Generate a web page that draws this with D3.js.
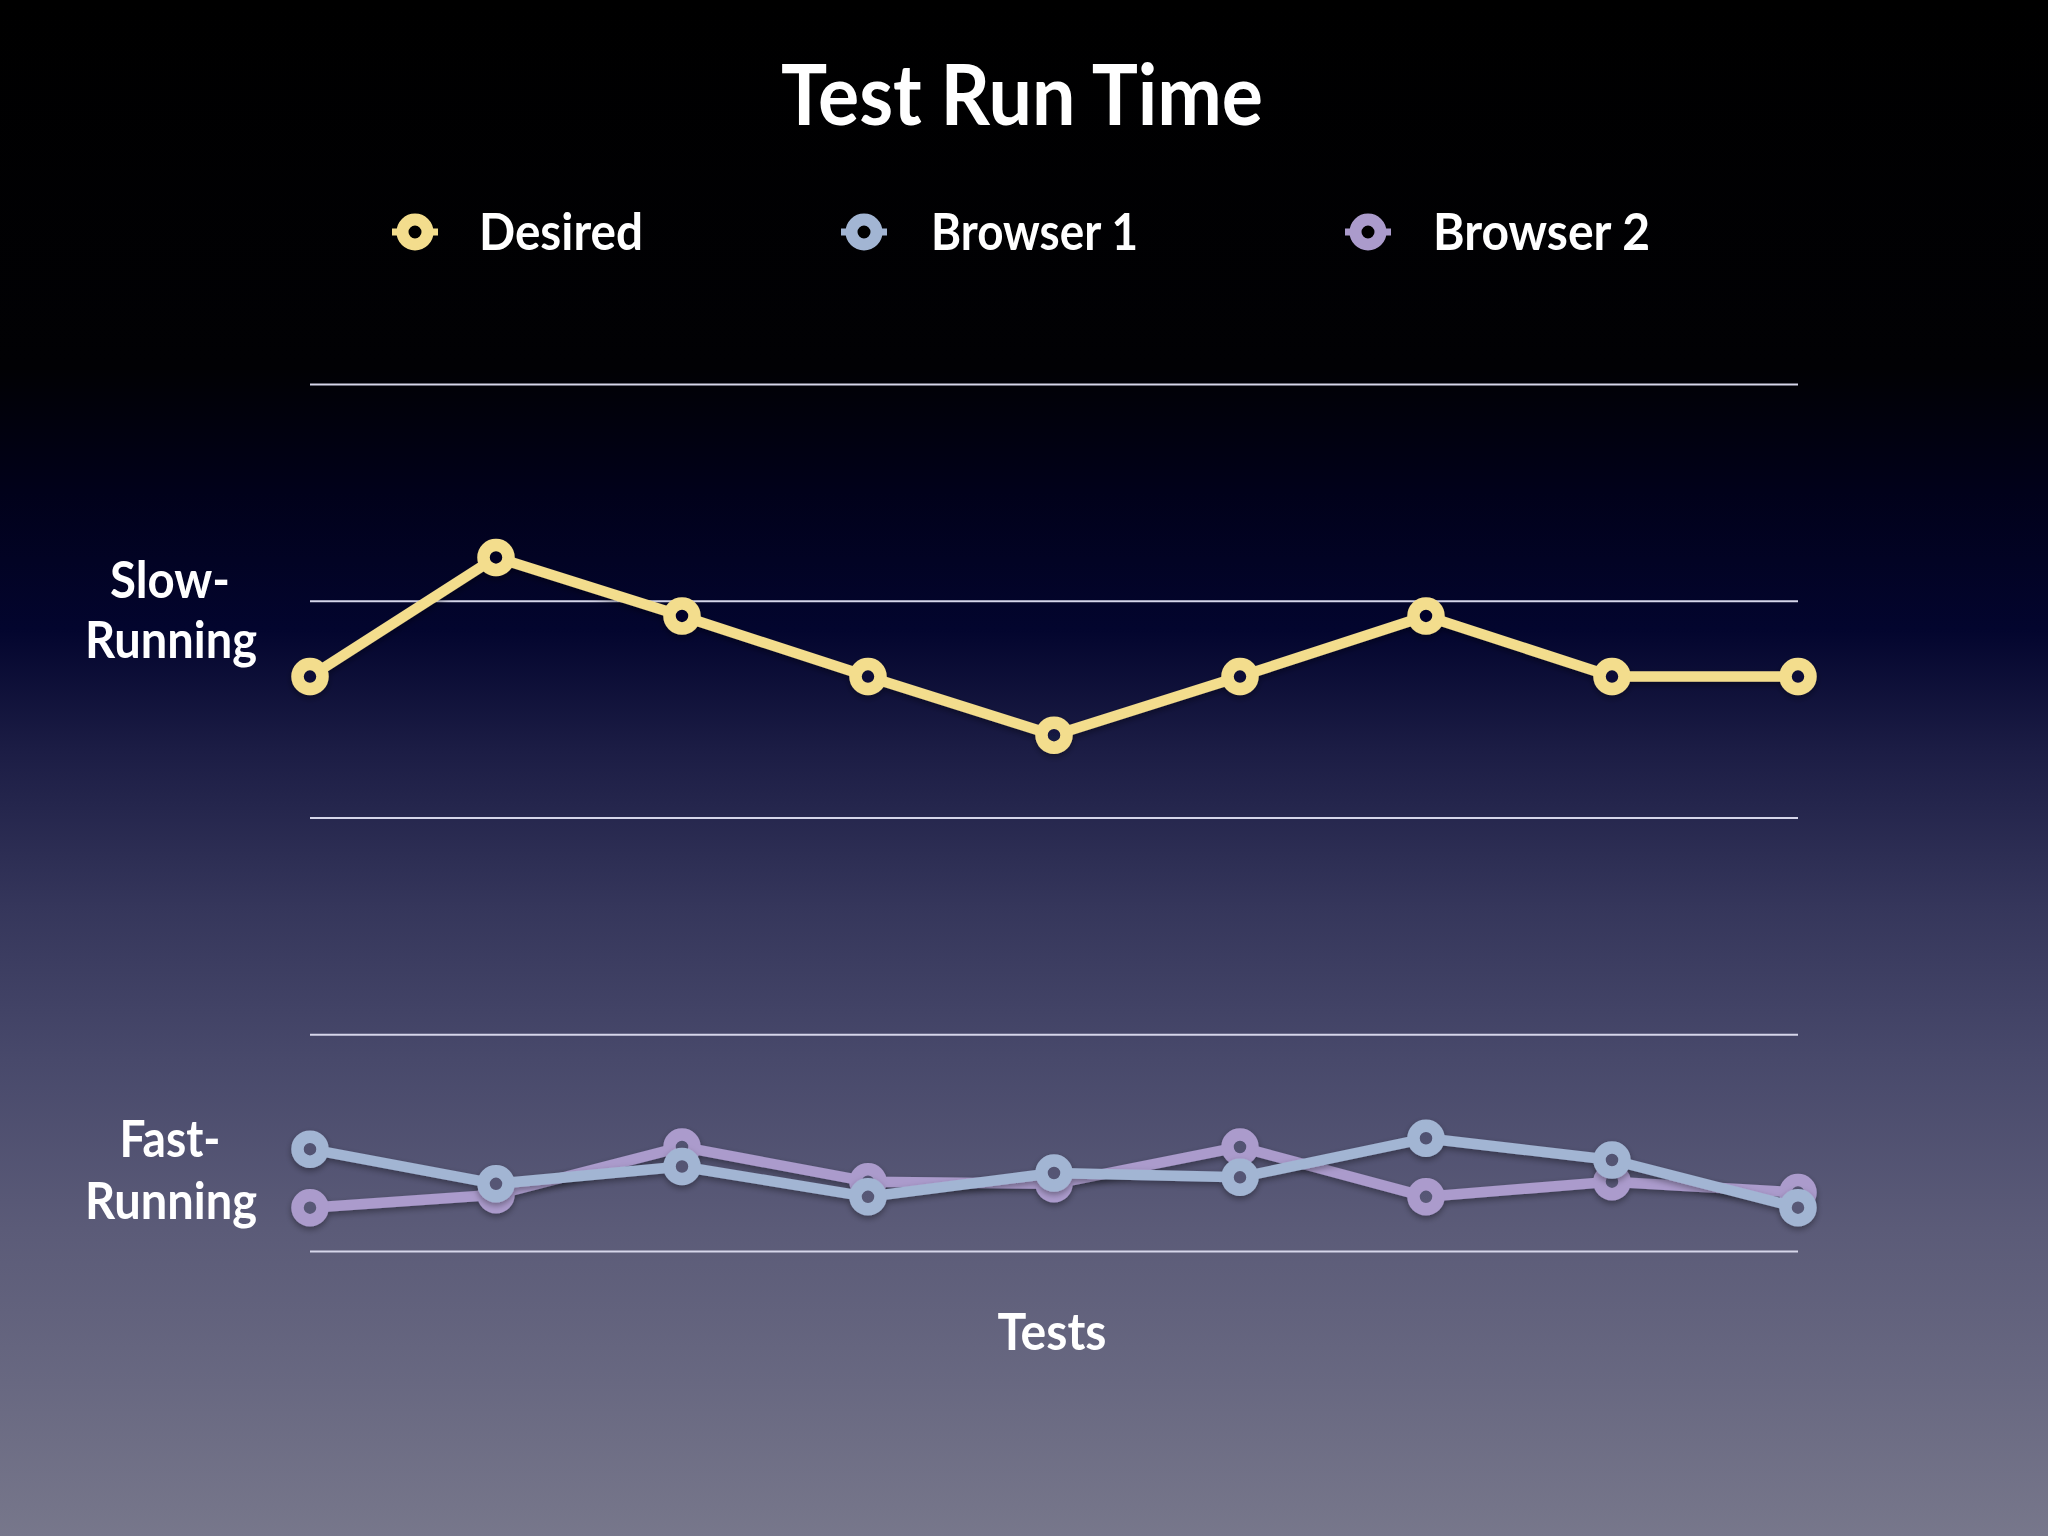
<!DOCTYPE html>
<html>
<head>
<meta charset="utf-8">
<script src="https://cdn.jsdelivr.net/npm/d3@7"></script>
<style>
html,body{margin:0;padding:0;background:#000;}
svg{display:block;}
text{font-family:Lato,"Open Sans",sans-serif;font-weight:700;fill:#ffffff;}
</style>
</head>
<body>
<svg id="chart" width="2048" height="1536"></svg>
<script>
// ---- data ----
const tests = ["1","2","3","4","5","6","7","8","9"];
const desired  = [2.65, 3.20, 2.93, 2.65, 2.38, 2.65, 2.93, 2.65, 2.65];
const browser1 = [0.47, 0.31, 0.39, 0.25, 0.36, 0.34, 0.52, 0.42, 0.20];
const browser2 = [0.20, 0.26, 0.48, 0.32, 0.31, 0.48, 0.25, 0.32, 0.27];
const seriesNames = ["Desired", "Browser 1", "Browser 2"];
const yTicks = [0, 1, 2, 3, 4];
const yCategoryLabels = [["Slow-", "Running"], ["Fast-", "Running"]];
const title = "Test Run Time";
const xTitle = "Tests";

const colors = {"Desired":"#f3dd8d", "Browser 1":"#a2b5d3", "Browser 2":"#ab9bcc"};

const svg = d3.select("#chart");
const W = 2048, H = 1536;

// background gradient
const defs = svg.append("defs");
const grad = defs.append("linearGradient").attr("id","bg")
  .attr("gradientUnits","userSpaceOnUse").attr("x1",0).attr("y1",0).attr("x2",0).attr("y2",H);
[[0,"#000000"],[0.24,"#010104"],[0.32,"#01011a"],[0.41,"#03052e"],[0.49,"#1c1d45"],
 [0.59,"#35365b"],[0.69,"#48496b"],[0.80,"#5b5b78"],[0.90,"#686881"],[1,"#77778b"]]
 .forEach(([o,c])=>grad.append("stop").attr("offset",o).attr("stop-color",c));
svg.append("rect").attr("width",W).attr("height",H).attr("fill","url(#bg)");

// scales
const x = d3.scalePoint().domain(tests).range([310, 1798]);
const y = d3.scaleLinear().domain([0, 4]).range([1251, 384]);

// gridlines
const grid = svg.append("g").attr("transform","translate(310,0)")
  .call(d3.axisLeft(y).tickValues(yTicks).tickSize(-(1798-310)).tickFormat(""));
grid.select(".domain").remove();
grid.selectAll(".tick line").attr("stroke","#d6d6ea").attr("stroke-width",2);

// title
function fitText(sel, w){ sel.attr("textLength", w).attr("lengthAdjust","spacingAndGlyphs"); return sel; }
fitText(svg.append("text").attr("x",1022).attr("y",125).attr("text-anchor","middle")
  .attr("font-size",84).text(title), 482);

// legend
const legendPos = [{mx:415, tx:479, w:164},{mx:864, tx:931, w:207},{mx:1368, tx:1433, w:217}];
seriesNames.forEach((name,i)=>{
  const p = legendPos[i];
  const g = svg.append("g");
  g.append("line").attr("x1",p.mx-23).attr("x2",p.mx+23).attr("y1",232).attr("y2",232)
    .attr("stroke",colors[name]).attr("stroke-width",7);
  g.append("circle").attr("cx",p.mx).attr("cy",232).attr("r",12.5)
    .attr("fill","#000").attr("stroke",colors[name]).attr("stroke-width",12);
  fitText(g.append("text").attr("x",p.tx).attr("y",250).attr("font-size",52).text(name), p.w);
});

// y category labels
const catPos = [{y1:598, y2:658, w1:120, w2:172},{y1:1157, y2:1219, w1:101, w2:172}];
yCategoryLabels.forEach((lines,i)=>{
  const p = catPos[i];
  fitText(svg.append("text").attr("x",170).attr("y",p.y1).attr("text-anchor","middle")
    .attr("font-size",52).text(lines[0]), p.w1);
  fitText(svg.append("text").attr("x",171).attr("y",p.y2).attr("text-anchor","middle")
    .attr("font-size",52).text(lines[1]), p.w2);
});

// x title
fitText(svg.append("text").attr("x",1052).attr("y",1350).attr("text-anchor","middle")
  .attr("font-size",52).text(xTitle), 109);

// series
const shadow = defs.append("filter").attr("id","sh").attr("x","-10%").attr("y","-10%").attr("width","120%").attr("height","130%");
shadow.append("feDropShadow").attr("dx",0).attr("dy",3).attr("stdDeviation",3)
  .attr("flood-color","#000").attr("flood-opacity",0.35);

const line = d3.line().x((d,i)=>x(tests[i])).y(d=>y(d));
const drawOrder = [["Desired",desired],["Browser 2",browser2],["Browser 1",browser1]];
drawOrder.forEach(([name,vals])=>{
  const g = svg.append("g").attr("filter","url(#sh)");
  g.append("path").datum(vals).attr("d",line).attr("fill","none")
    .attr("stroke",colors[name]).attr("stroke-width",10.5).attr("stroke-linejoin","round");
  g.selectAll("circle").data(vals).join("circle")
    .attr("cx",(d,i)=>x(tests[i])).attr("cy",d=>y(d)).attr("r",12.5)
    .attr("fill","url(#bg)").attr("stroke",colors[name]).attr("stroke-width",12.5);
});
</script>
</body>
</html>
